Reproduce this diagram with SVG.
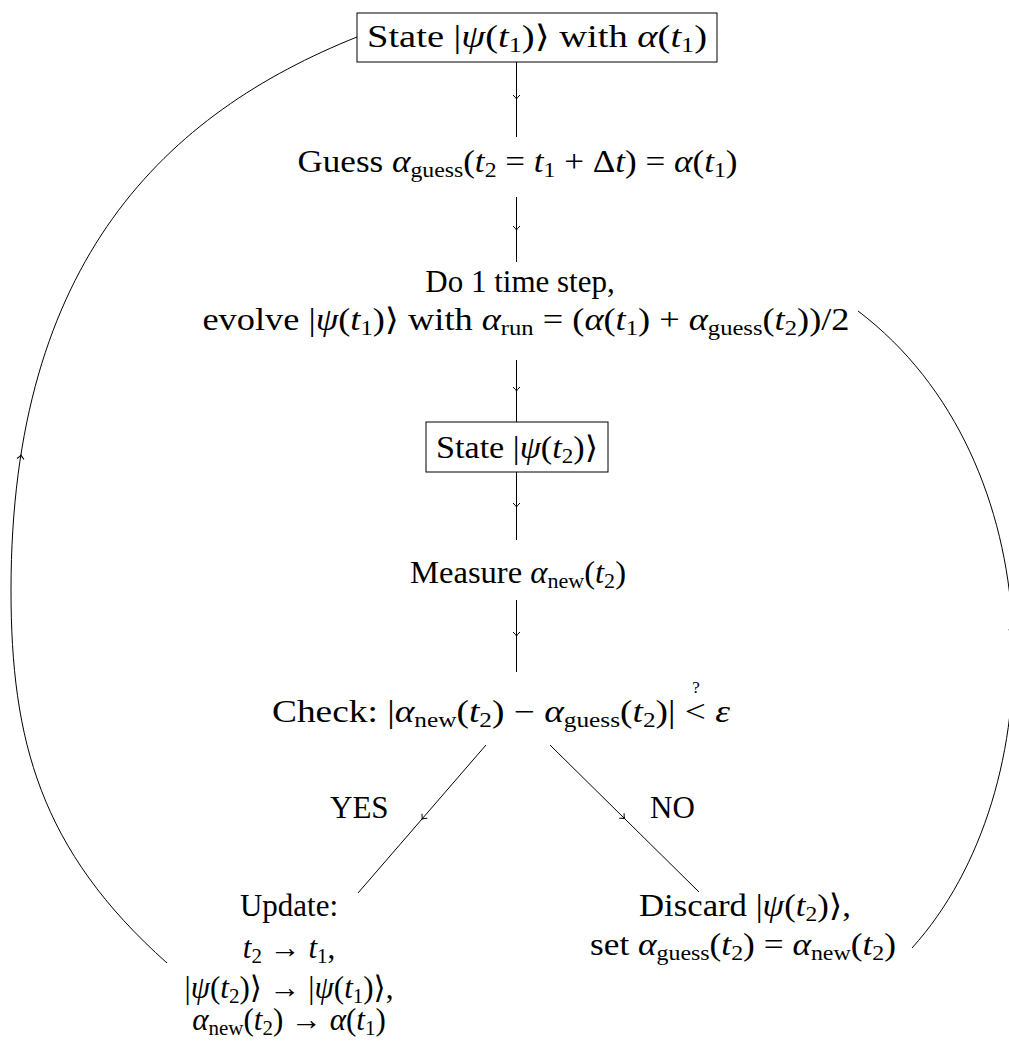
<svg xmlns="http://www.w3.org/2000/svg" xmlns:xlink="http://www.w3.org/1999/xlink" width="1009" height="1041" viewBox="0 0 1009 1041">
<style>
.t{font-family:"Liberation Serif","DejaVu Serif",serif;font-size:31px;fill:#000}
.i{font-style:italic}
.s{font-size:21px}
.q{font-size:17px}
.box{fill:none;stroke:#000;stroke-width:1}
.ln{fill:none;stroke:#000;stroke-width:1}
</style>
<defs>
<path id="ah" d="M-4,-3.5 Q-1.5,-0.8 0,0 Q-1.5,0.8 -4,3.5" fill="none" stroke="#000" stroke-width="1"/>
</defs>
<rect width="1009" height="1041" fill="#fff"/>
<g id="connectors">
<line class="ln" x1="516.5" y1="62" x2="516.5" y2="137"/>
<use xlink:href="#ah" transform="translate(516.5,99) rotate(90)"/>
<line class="ln" x1="516.5" y1="197" x2="516.5" y2="262"/>
<use xlink:href="#ah" transform="translate(516.5,230) rotate(90)"/>
<line class="ln" x1="516.5" y1="360" x2="516.5" y2="422"/>
<use xlink:href="#ah" transform="translate(516.5,391) rotate(90)"/>
<line class="ln" x1="516.5" y1="472" x2="516.5" y2="540"/>
<use xlink:href="#ah" transform="translate(516.5,507) rotate(90)"/>
<line class="ln" x1="516.5" y1="600" x2="516.5" y2="672"/>
<use xlink:href="#ah" transform="translate(516.5,636) rotate(90)"/>
<line class="ln" x1="486" y1="745" x2="358" y2="893"/>
<use xlink:href="#ah" transform="translate(422,819) rotate(130.9)"/>
<line class="ln" x1="550" y1="745" x2="699" y2="892"/>
<use xlink:href="#ah" transform="translate(624.5,818.5) rotate(44.6)"/>
<path class="ln" d="M167,963 C40,850 11,740 11,590 C11,260 167,113 357,37"/>
<use xlink:href="#ah" transform="translate(21,455) rotate(-82.6)"/>
<path class="ln" d="M912,948 C1055,790 1055,460 858,311"/>
<use xlink:href="#ah" transform="translate(1012,626) rotate(-93)"/>
</g>
<g id="n1">
<rect class="box" x="357" y="13" width="360" height="49"/>
<text class="t" x="537" y="47" text-anchor="middle" textLength="340" lengthAdjust="spacingAndGlyphs">State |<tspan class="i">ψ</tspan>(<tspan class="i">t</tspan><tspan class="s" dy="5">1</tspan><tspan dy="-5">)⟩ with </tspan><tspan class="i">α</tspan>(<tspan class="i">t</tspan><tspan class="s" dy="5">1</tspan><tspan dy="-5">)</tspan></text>
</g>
<g id="n2">
<text class="t" x="517.5" y="172" text-anchor="middle" textLength="440" lengthAdjust="spacingAndGlyphs">Guess <tspan class="i">α</tspan><tspan class="s" dy="5">guess</tspan><tspan dy="-5">(</tspan><tspan class="i">t</tspan><tspan class="s" dy="5">2</tspan><tspan dy="-5"> = </tspan><tspan class="i">t</tspan><tspan class="s" dy="5">1</tspan><tspan dy="-5"> + Δ</tspan><tspan class="i">t</tspan>) = <tspan class="i">α</tspan>(<tspan class="i">t</tspan><tspan class="s" dy="5">1</tspan><tspan dy="-5">)</tspan></text>
</g>
<g id="n3">
<text class="t" x="520" y="292" text-anchor="middle">Do 1 time step,</text>
<text class="t" x="526" y="330" text-anchor="middle" textLength="647" lengthAdjust="spacingAndGlyphs">evolve |<tspan class="i">ψ</tspan>(<tspan class="i">t</tspan><tspan class="s" dy="5">1</tspan><tspan dy="-5">)⟩ with </tspan><tspan class="i">α</tspan><tspan class="s" dy="5">run</tspan><tspan dy="-5"> = (</tspan><tspan class="i">α</tspan>(<tspan class="i">t</tspan><tspan class="s" dy="5">1</tspan><tspan dy="-5">) + </tspan><tspan class="i">α</tspan><tspan class="s" dy="5">guess</tspan><tspan dy="-5">(</tspan><tspan class="i">t</tspan><tspan class="s" dy="5">2</tspan><tspan dy="-5">))/2</tspan></text>
</g>
<g id="n4">
<rect class="box" x="426" y="422" width="182" height="50"/>
<text class="t" x="517" y="458" text-anchor="middle" textLength="162" lengthAdjust="spacingAndGlyphs">State |<tspan class="i">ψ</tspan>(<tspan class="i">t</tspan><tspan class="s" dy="5">2</tspan><tspan dy="-5">)⟩</tspan></text>
</g>
<g id="n5">
<text class="t" x="518" y="583" text-anchor="middle" textLength="216" lengthAdjust="spacingAndGlyphs">Measure <tspan class="i">α</tspan><tspan class="s" dy="5">new</tspan><tspan dy="-5">(</tspan><tspan class="i">t</tspan><tspan class="s" dy="5">2</tspan><tspan dy="-5">)</tspan></text>
</g>
<g id="n6">
<text class="t" x="501" y="722" text-anchor="middle" textLength="458" lengthAdjust="spacingAndGlyphs">Check: |<tspan class="i">α</tspan><tspan class="s" dy="5">new</tspan><tspan dy="-5">(</tspan><tspan class="i">t</tspan><tspan class="s" dy="5">2</tspan><tspan dy="-5">) − </tspan><tspan class="i">α</tspan><tspan class="s" dy="5">guess</tspan><tspan dy="-5">(</tspan><tspan class="i">t</tspan><tspan class="s" dy="5">2</tspan><tspan dy="-5">)| &lt; </tspan><tspan class="i">ε</tspan></text>
<text class="t q" x="696" y="693" text-anchor="middle">?</text>
</g>
<g id="lyes">
<text class="t" x="330" y="818">YES</text>
</g>
<g id="lno">
<text class="t" x="650" y="818">NO</text>
</g>
<g id="n7">
<text class="t" x="289" y="916" text-anchor="middle">Update:</text>
<text class="t" x="289" y="958" text-anchor="middle"><tspan class="i">t</tspan><tspan class="s" dy="5">2</tspan><tspan dy="-5"> → </tspan><tspan class="i">t</tspan><tspan class="s" dy="5">1</tspan><tspan dy="-5">,</tspan></text>
<text class="t" x="289" y="998" text-anchor="middle">|<tspan class="i">ψ</tspan>(<tspan class="i">t</tspan><tspan class="s" dy="5">2</tspan><tspan dy="-5">)⟩ → |</tspan><tspan class="i">ψ</tspan>(<tspan class="i">t</tspan><tspan class="s" dy="5">1</tspan><tspan dy="-5">)⟩,</tspan></text>
<text class="t" x="289" y="1030" text-anchor="middle"><tspan class="i">α</tspan><tspan class="s" dy="5">new</tspan><tspan dy="-5">(</tspan><tspan class="i">t</tspan><tspan class="s" dy="5">2</tspan><tspan dy="-5">) → </tspan><tspan class="i">α</tspan>(<tspan class="i">t</tspan><tspan class="s" dy="5">1</tspan><tspan dy="-5">)</tspan></text>
</g>
<g id="n8">
<text class="t" x="745" y="916" text-anchor="middle" textLength="212" lengthAdjust="spacingAndGlyphs">Discard |<tspan class="i">ψ</tspan>(<tspan class="i">t</tspan><tspan class="s" dy="5">2</tspan><tspan dy="-5">)⟩,</tspan></text>
<text class="t" x="743" y="955" text-anchor="middle" textLength="306" lengthAdjust="spacingAndGlyphs">set <tspan class="i">α</tspan><tspan class="s" dy="5">guess</tspan><tspan dy="-5">(</tspan><tspan class="i">t</tspan><tspan class="s" dy="5">2</tspan><tspan dy="-5">) = </tspan><tspan class="i">α</tspan><tspan class="s" dy="5">new</tspan><tspan dy="-5">(</tspan><tspan class="i">t</tspan><tspan class="s" dy="5">2</tspan><tspan dy="-5">)</tspan></text>
</g>
</svg>
